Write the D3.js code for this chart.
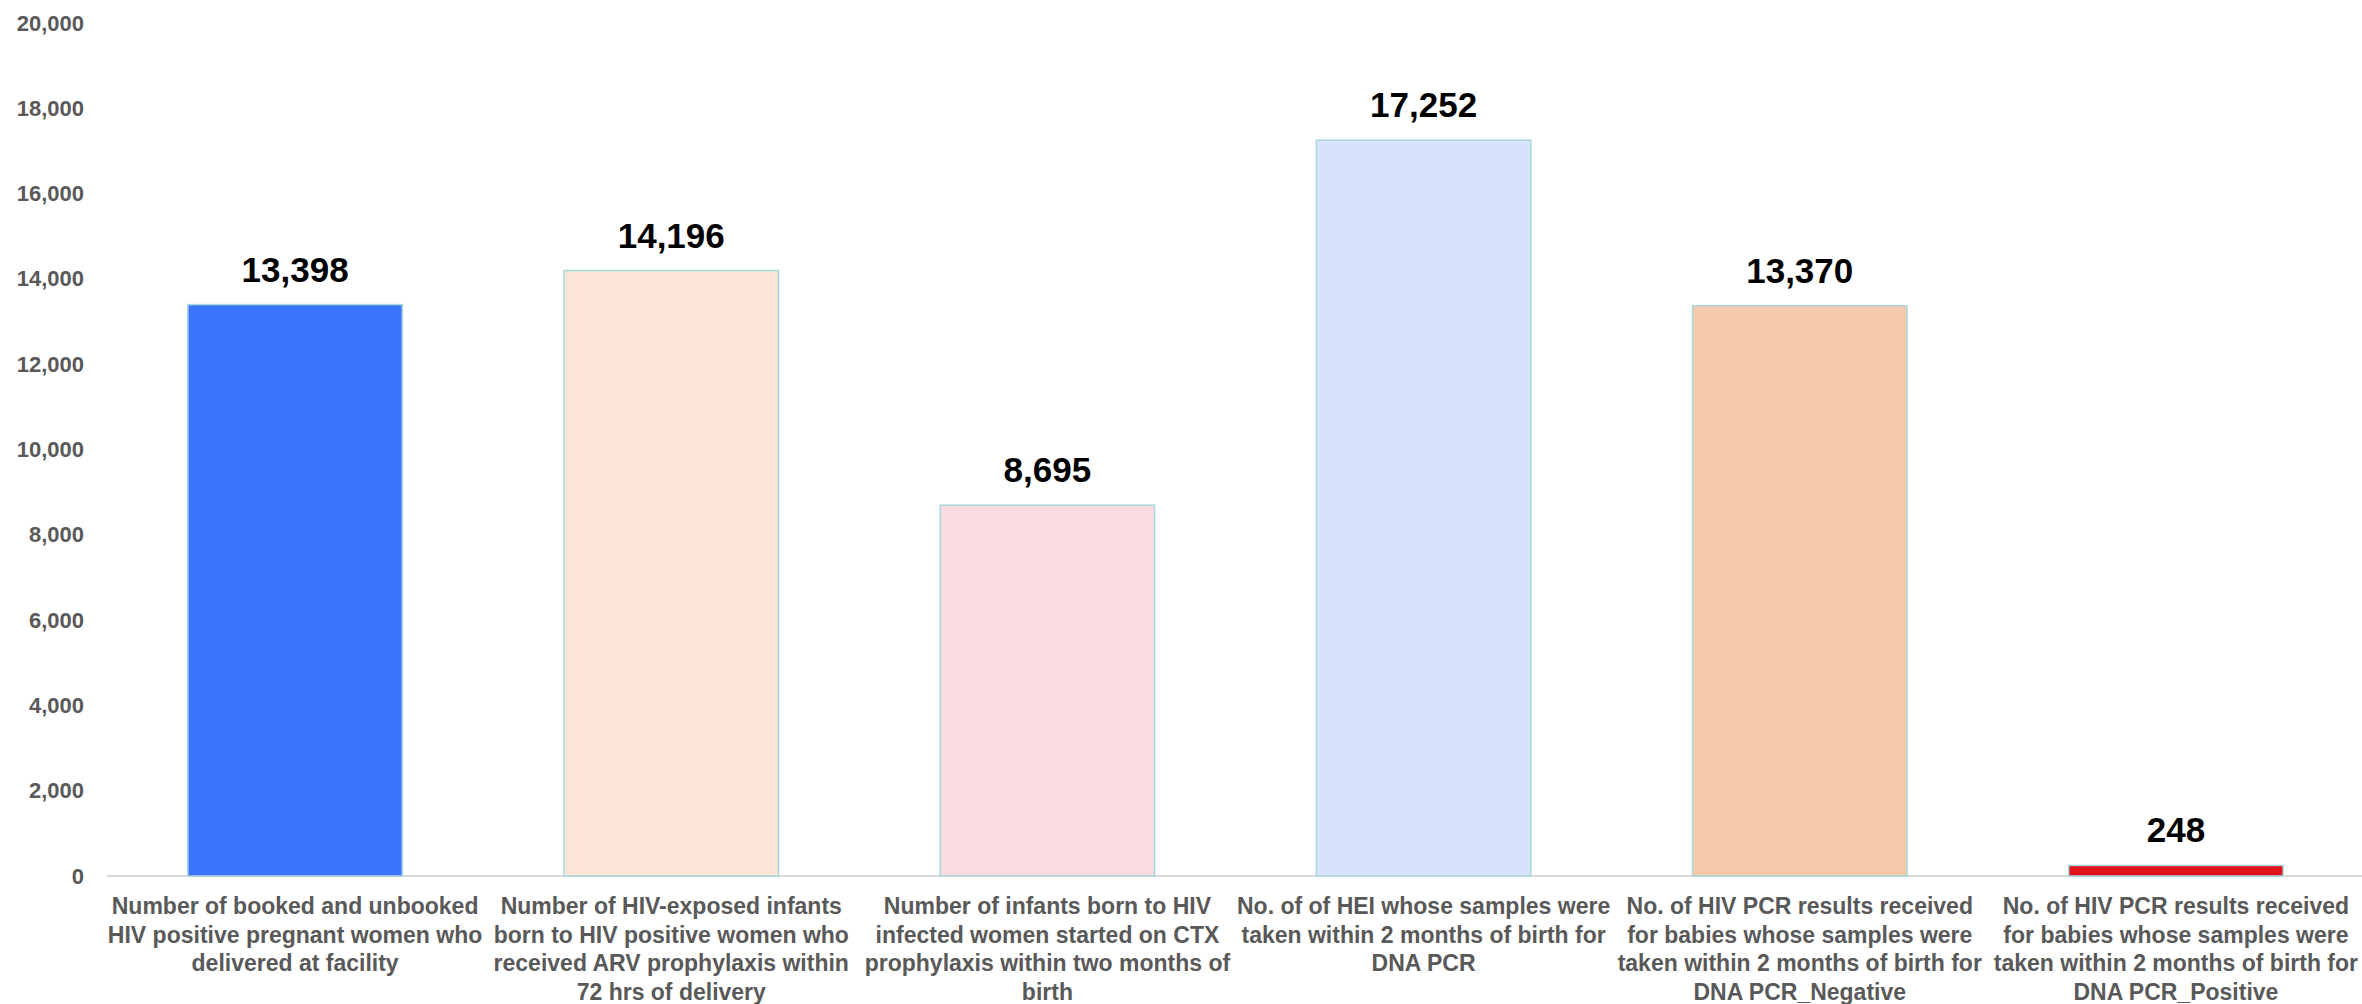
<!DOCTYPE html>
<html>
<head>
<meta charset="utf-8">
<script src="https://cdn.jsdelivr.net/npm/d3@7"></script>
<style>
  html, body { margin: 0; padding: 0; background: #ffffff; }
  svg { display: block; }
</style>
</head>
<body>
<div id="chart"></div>
<script>
// Data
var categories = [
    "Number of booked and unbooked\nHIV positive pregnant women who\ndelivered at facility",
    "Number of HIV-exposed infants\nborn to HIV positive women who\nreceived ARV prophylaxis within\n72 hrs of delivery",
    "Number of infants born to HIV\ninfected women started on CTX\nprophylaxis within two months of\nbirth",
    "No. of of HEI whose samples were\ntaken within 2 months of birth for\nDNA PCR",
    "No. of HIV PCR results received\nfor babies whose samples were\ntaken within 2 months of birth for\nDNA PCR_Negative",
    "No. of HIV PCR results received\nfor babies whose samples were\ntaken within 2 months of birth for\nDNA PCR_Positive"
];
var values = [13398, 14196, 8695, 17252, 13370, 248];
var barColors = ["#3b73fb", "#fae5d7", "#fadbdf", "#d7e3fc", "#f5caab", "#df111d"];
var yTicks = [0, 2000, 4000, 6000, 8000, 10000, 12000, 14000, 16000, 18000, 20000];

// Chart size
var totalWidth = 2362,
    totalHeight = 1004;
var margin = { top: 23, right: -2, bottom: 128, left: 107 },
    width = totalWidth - margin.left - margin.right,
    height = totalHeight - margin.top - margin.bottom;

var svg = d3.select("#chart")
    .append("svg")
    .attr("width", totalWidth)
    .attr("height", totalHeight)
    .append("g")
    .attr("transform", "translate(" + margin.left + "," + margin.top + ")");

var font = "'Liberation Sans', Arial, sans-serif";

// Scales
var x = d3.scaleBand()
    .domain(categories)
    .range([0, width])
    .paddingInner(0.43)
    .paddingOuter(0.215);

var y = d3.scaleLinear()
    .domain([0, 20000])
    .range([height, 0]);

// Y axis (labels only)
var yAxis = svg.append("g")
    .call(d3.axisLeft(y)
        .tickValues(yTicks)
        .tickFormat(d3.format(","))
        .tickSize(0)
        .tickPadding(23));

yAxis.select(".domain").remove();
yAxis.selectAll("text")
    .style("font-family", font)
    .style("font-weight", "bold")
    .style("font-size", "22px")
    .style("fill", "#595959");

// Baseline
svg.append("line")
    .attr("x1", 0)
    .attr("x2", width)
    .attr("y1", y(0))
    .attr("y2", y(0))
    .style("stroke", "#d9d9d9")
    .style("stroke-width", 2);

// Bars
svg.selectAll("rect.bar")
    .data(values)
    .enter()
    .append("rect")
    .attr("class", "bar")
    .attr("x", function (d, i) { return x(categories[i]); })
    .attr("y", function (d) { return y(d); })
    .attr("width", x.bandwidth())
    .attr("height", function (d) { return y(0) - y(d); })
    .style("fill", function (d, i) { return barColors[i]; })
    .style("stroke", "#a5d8dd")
    .style("stroke-width", 1.5);

// Value labels
svg.selectAll("text.value")
    .data(values)
    .enter()
    .append("text")
    .attr("class", "value")
    .attr("x", function (d, i) { return x(categories[i]) + x.bandwidth() / 2; })
    .attr("y", function (d) { return y(d) - 23; })
    .attr("text-anchor", "middle")
    .style("font-family", font)
    .style("font-weight", "bold")
    .style("font-size", "35px")
    .style("fill", "#000000")
    .text(function (d) { return d3.format(",")(d); });

// Category labels (wrapped as in the reference)
var catLabels = svg.selectAll("text.cat")
    .data(categories)
    .enter()
    .append("text")
    .attr("class", "cat")
    .attr("text-anchor", "middle")
    .attr("transform", function (d) {
        return "translate(" + (x(d) + x.bandwidth() / 2) + "," + (y(0) + 38) + ")";
    })
    .style("font-family", font)
    .style("font-weight", "bold")
    .style("font-size", "23px")
    .style("fill", "#595959");

catLabels.selectAll("tspan")
    .data(function (d) { return d.split("\n"); })
    .enter()
    .append("tspan")
    .attr("x", 0)
    .attr("dy", function (d, i) { return i === 0 ? 0 : 28.7; })
    .text(function (d) { return d; });
</script>
</body>
</html>
